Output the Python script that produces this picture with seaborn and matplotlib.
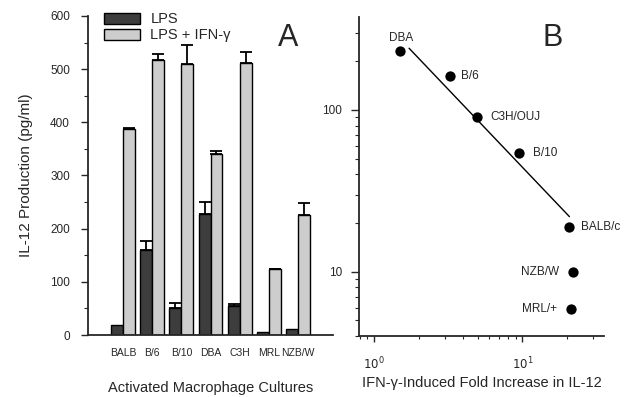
import matplotlib
matplotlib.use("Agg")
import matplotlib.pyplot as plt
import seaborn as sns
import pandas as pd
import numpy as np

# ---- Panel A data ----
strains = ["BALB", "B/6", "B/10", "DBA", "C3H", "MRL", "NZB/W"]
lps = [19, 160, 51, 228, 55, 6, 11]
lps_err = [0, 17, 9, 22, 3, 0, 0]
lps_ifn = [387, 517, 510, 340, 511, 124, 225]
lps_ifn_err = [3, 12, 35, 7, 22, 1, 23]
series = ["LPS", "LPS + IFN-\u03b3"]

# ---- Panel B data ----
b_labels = ["DBA", "B/6", "C3H/OUJ", "B/10", "BALB/c", "NZB/W", "MRL/+"]
b_fold = [1.49, 3.26, 4.92, 9.5, 20.6, 22.1, 21.2]
b_il12 = [232, 162, 91, 54, 19, 10, 5.9]
fit_x = [1.72, 20.8]
fit_y = [241, 21.9]

sns.set_theme(style="ticks")
plt.rcParams["font.family"] = ["Liberation Sans", "DejaVu Sans"]

fig = plt.figure(figsize=(6.32, 3.97), dpi=100)
axA = fig.add_axes([88/632, 1-335/397, (333-88)/632, (335-16)/397])
axB = fig.add_axes([359/632, 1-336/397, (604-359)/632, (336-17)/397])

df = pd.DataFrame({
    "strain": strains * 2,
    "value": lps + lps_ifn,
    "err": lps_err + lps_ifn_err,
    "series": [series[0]] * len(strains) + [series[1]] * len(strains),
})
colors = {series[0]: "#3d3d3d", series[1]: "#cdcdcd"}
sns.barplot(data=df, x="strain", y="value", hue="series", hue_order=series,
            palette=colors, width=0.82, errorbar=None, ax=axA,
            edgecolor="black", linewidth=1.0, saturation=1)

# error bars (upward only) from bar patches
for s_i, s in enumerate(series):
    sub = df[df.series == s].reset_index(drop=True)
    for i in range(len(strains)):
        p = axA.patches[s_i*len(strains) + i]
        xc = p.get_x() + p.get_width()/2
        e = sub.loc[i, "err"]
        if e > 0:
            axA.errorbar([xc], [sub.loc[i, "value"]], yerr=[[0], [e]],
                         fmt="none", ecolor="black", elinewidth=1.3,
                         capsize=4.5, capthick=1.3)

axA.set_xlim(-1.2, 7.2)
axA.set_ylim(0, 600)
axA.set_yticks([0, 100, 200, 300, 400, 500, 600])
axA.set_yticks(np.arange(50, 600, 100), minor=True)
axA.tick_params(axis="y", which="major", length=5, width=1, labelsize=8.5, pad=8)
axA.tick_params(axis="y", which="minor", length=3, width=0.8)
axA.tick_params(axis="x", length=0, labelsize=7.5, pad=9)
axA.set_xlabel("Activated Macrophage Cultures", fontsize=10.5, labelpad=17)
axA.set_ylabel("IL-12 Production (pg/ml)", fontsize=11, labelpad=12)
sns.despine(ax=axA)
for sp in ("left", "bottom"):
    axA.spines[sp].set_linewidth(1.3)
leg = axA.legend(loc="upper left", bbox_to_anchor=(0.04, 1.03), frameon=False,
                 fontsize=10.5, handlelength=2.5, handleheight=0.8,
                 labelspacing=0.15, handletextpad=0.7, borderaxespad=0)
axA.text(0.815, 0.93, "A", transform=axA.transAxes, fontsize=22,
         ha="center", va="center")

# ---- Panel B ----
sns.scatterplot(x=b_fold, y=b_il12, ax=axB, color="black", s=55,
                edgecolor="black", linewidth=0, zorder=3)
sns.lineplot(x=fit_x, y=fit_y, ax=axB, color="black", linewidth=1.0)
axB.set_xscale("log")
axB.set_yscale("log")
axB.set_xlim(0.79, 35.6)
axB.set_ylim(4.0, 376)
axB.set_yticks([10, 100])
axB.set_yticklabels(["10", "100"])
axB.set_xticks([1, 10])
axB.set_xticklabels(["$10^0$", "$10^1$"])
axB.tick_params(axis="y", which="major", length=6, width=1, labelsize=8.5, pad=6)
axB.tick_params(axis="y", which="minor", length=3, width=0.8)
axB.tick_params(axis="x", which="major", length=4, width=1, labelsize=8.5, pad=10)
axB.tick_params(axis="x", which="minor", length=2, width=0.8)
axB.set_xlabel("IFN-\u03b3-Induced Fold Increase in IL-12", fontsize=10.5, labelpad=3)
sns.despine(ax=axB)
for sp in ("left", "bottom"):
    axB.spines[sp].set_linewidth(1.3)

offsets = {
    "DBA": ((1, 5), "center", "bottom"),
    "B/6": ((8, 0), "left", "center"),
    "C3H/OUJ": ((10, 0), "left", "center"),
    "B/10": ((10, 0), "left", "center"),
    "BALB/c": ((9, 0), "left", "center"),
    "NZB/W": ((-10, 0), "right", "center"),
    "MRL/+": ((-10, 0), "right", "center"),
}
for lab, xv, yv in zip(b_labels, b_fold, b_il12):
    off, ha, va = offsets[lab]
    axB.annotate(lab, (xv, yv), xytext=off, textcoords="offset points",
                 ha=ha, va=va, fontsize=8.5)
axB.text(0.79, 0.935, "B", transform=axB.transAxes, fontsize=22,
         ha="center", va="center")

fig.savefig("out.png", dpi=100)
